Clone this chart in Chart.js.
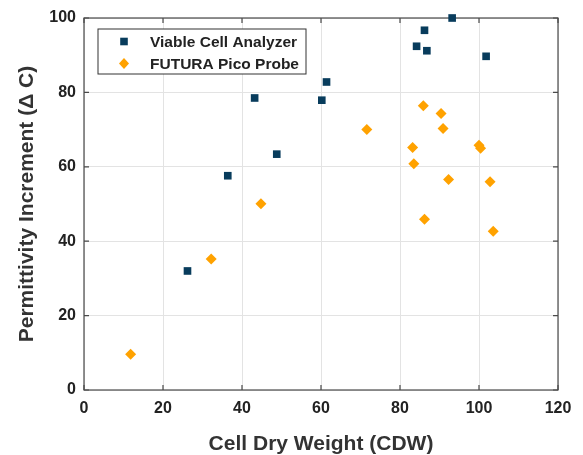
<!DOCTYPE html>
<html>
<head>
<meta charset="utf-8">
<script src="https://cdn.jsdelivr.net/npm/chart.js@4/dist/chart.umd.min.js"></script>
<style>
  html, body { margin: 0; padding: 0; background: #fff; }
  #wrap { width: 583px; height: 455px; }
</style>
</head>
<body>
<div id="wrap"><canvas id="myChart" width="583" height="455"></canvas></div>
<script>
// Viable Cell Analyzer (blue squares)
var vcaX = [26.2, 36.4, 43.2, 48.8, 60.2, 61.4, 84.2, 86.2, 86.8, 93.2, 101.8];
var vcaY = [32.0, 57.6, 78.5, 63.4, 77.9, 82.8, 92.4, 96.7, 91.2, 100.0, 89.7];
// FUTURA Pico Probe (orange diamonds)
var futX = [11.8, 32.2, 44.8, 71.6, 85.9, 90.4, 90.9, 83.2, 83.5, 100.0, 100.4, 92.3, 102.8, 86.2, 103.6];
var futY = [9.6, 35.2, 50.1, 70.0, 76.4, 74.3, 70.3, 65.2, 60.8, 65.8, 65.0, 56.6, 56.0, 45.9, 42.7];

var xTicks = [0, 20, 40, 60, 80, 100, 120];
var yTicks = [0, 20, 40, 60, 80, 100];
var xTitle = "Cell Dry Weight (CDW)";
var yTitle = "Permittivity Increment (\u0394 C)";

function pts(xs, ys) {
  return xs.map(function (x, i) { return { x: x, y: ys[i] }; });
}

var FONT = "'Liberation Sans', Arial, sans-serif";

// box, inward ticks and legend drawn like the original figure
var figPlugin = {
  id: "figPlugin",
  beforeDatasetsDraw: function (chart) {
    var ctx = chart.ctx, a = chart.chartArea;
    var sx = chart.scales.x, sy = chart.scales.y;
    ctx.save();
    ctx.strokeStyle = "#4a4a4a";
    ctx.lineWidth = 1.2;
    ctx.strokeRect(a.left, a.top, a.right - a.left, a.bottom - a.top);
    ctx.beginPath();
    xTicks.forEach(function (v) {
      var p = sx.getPixelForValue(v);
      ctx.moveTo(p, a.bottom); ctx.lineTo(p, a.bottom - 5);
      ctx.moveTo(p, a.top); ctx.lineTo(p, a.top + 5);
    });
    yTicks.forEach(function (v) {
      var p = sy.getPixelForValue(v);
      ctx.moveTo(a.left, p); ctx.lineTo(a.left + 5, p);
      ctx.moveTo(a.right, p); ctx.lineTo(a.right - 5, p);
    });
    ctx.stroke();
    ctx.restore();
  },
  afterDraw: function (chart) {
    var ctx = chart.ctx, a = chart.chartArea;
    ctx.save();
    // legend
    var bx = a.left + 14, by = a.top + 11, bw = 208, bh = 45;
    ctx.fillStyle = "#fff";
    ctx.fillRect(bx, by, bw, bh);
    ctx.strokeStyle = "#333";
    ctx.lineWidth = 1;
    ctx.strokeRect(bx, by, bw, bh);
    ctx.font = "bold 15.5px " + FONT;
    ctx.textBaseline = "middle";
    chart.data.datasets.forEach(function (ds, i) {
      var cy = by + 12.5 + i * 22;
      var cx = bx + 26;
      ctx.fillStyle = ds.backgroundColor;
      ctx.beginPath();
      if (ds.pointStyle === "rect") {
        ctx.rect(cx - 3.8, cy - 3.8, 7.6, 7.6);
      } else {
        ctx.moveTo(cx, cy - 5.5); ctx.lineTo(cx + 5, cy);
        ctx.lineTo(cx, cy + 5.5); ctx.lineTo(cx - 5, cy);
        ctx.closePath();
      }
      ctx.fill();
      ctx.fillStyle = "#222";
      ctx.fillText(ds.label, bx + 52, cy + 1);
    });
    ctx.restore();
  }
};

new Chart("myChart", {
  type: "scatter",
  data: {
    datasets: [
      {
        label: "Viable Cell Analyzer",
        data: pts(vcaX, vcaY),
        pointStyle: "rect",
        pointRadius: 5.4,
        pointHoverRadius: 5.4,
        backgroundColor: "#083c5c",
        borderColor: "#083c5c",
        borderWidth: 0,
        clip: false
      },
      {
        label: "FUTURA Pico Probe",
        data: pts(futX, futY),
        pointStyle: "rectRot",
        pointRadius: 5.5,
        pointHoverRadius: 5.5,
        backgroundColor: "#ffa200",
        borderColor: "#ffa200",
        borderWidth: 0,
        clip: false
      }
    ]
  },
  options: {
    responsive: false,
    animation: false,
    layout: { padding: { top: 18, right: 25, left: 0, bottom: 0 } },
    plugins: { legend: { display: false }, tooltip: { enabled: false } },
    scales: {
      x: {
        type: "linear",
        min: 0, max: 120,
        afterBuildTicks: function (s) { s.ticks = xTicks.map(function (v) { return { value: v }; }); },
        afterFit: function (s) { s.height = 65; },
        grid: { color: "#e3e3e3", drawTicks: false },
        border: { display: false },
        ticks: { padding: 9, color: "#222", font: { family: FONT, size: 16, weight: "bold" } },
        title: {
          display: true, text: xTitle, color: "#333",
          font: { family: FONT, size: 21, weight: "bold", lineHeight: 1 },
          padding: { top: 0, bottom: 0 }
        }
      },
      y: {
        type: "linear",
        min: 0, max: 100,
        afterBuildTicks: function (s) { s.ticks = yTicks.map(function (v) { return { value: v }; }); },
        afterFit: function (s) { s.width = 84; },
        grid: { color: "#e3e3e3", drawTicks: false },
        border: { display: false },
        ticks: { padding: 8, color: "#222", font: { family: FONT, size: 16, weight: "bold" } },
        title: {
          display: true, text: yTitle, color: "#333",
          font: { family: FONT, size: 21, weight: "bold", lineHeight: 1 },
          padding: { top: 16.5, bottom: 0 }
        }
      }
    }
  },
  plugins: [figPlugin]
});
</script>
</body>
</html>
